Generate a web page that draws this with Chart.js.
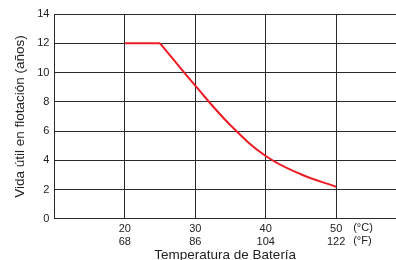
<!DOCTYPE html>
<html>
<head>
<meta charset="utf-8">
<script src="https://cdn.jsdelivr.net/npm/chart.js@4"></script>
<style>
  html, body { margin: 0; padding: 0; background: #fff; }
  #wrap { width: 396px; height: 260px; }
</style>
</head>
<body>
<div id="wrap"><canvas id="myChart" width="396" height="260"></canvas></div>
<script>
"use strict";

// flat part then the decay curve
const flatTemp = [20, 25];
const flatLife = [12, 12];
const curveTemp = [25, 30, 35, 40, 45, 50];
const curveLife = [12, 9.1, 6.4, 4.3, 3.05, 2.2];
const celsiusTicks = [20, 30, 40, 50];
const fahrenheitTicks = ["68", "86", "104", "122"];
const unitLabels = ["(°C)", "(°F)"];

const font = "'Liberation Sans', Arial, sans-serif";
const gridColor = "#2a2a2a";
const red = "#ec1c24";

const unitPlugin = {
  id: "units",
  afterDraw(chart) {
    const c = chart.ctx;
    const x = chart.scales.x.getPixelForValue(celsiusTicks[celsiusTicks.length - 1]) + 17;
    c.save();
    c.font = "11px " + font;
    c.fillStyle = "#222";
    c.textAlign = "left";
    c.textBaseline = "middle";
    c.fillText(unitLabels[0], x, 228);
    c.fillText(unitLabels[1], x, 240.5);
    c.restore();
  }
};

const ctx = document.getElementById("myChart");

new Chart(ctx, {
  type: "line",
  data: {
    datasets: [
      {
        data: flatTemp.map((t, i) => ({ x: t, y: flatLife[i] })),
        borderColor: red,
        borderWidth: 2,
        pointRadius: 0,
        tension: 0,
      },
      {
        data: curveTemp.map((t, i) => ({ x: t, y: curveLife[i] })),
        borderColor: red,
        borderWidth: 2,
        pointRadius: 0,
        tension: 0.4,
      },
    ],
  },
  options: {
    responsive: false,
    animation: false,
    layout: { padding: { left: 6, right: 0, top: 14, bottom: -2.5 } },
    plugins: { legend: { display: false }, tooltip: { enabled: false } },
    scales: {
      x: {
        type: "linear",
        min: 10,
        max: 58.5,
        afterBuildTicks(axis) {
          axis.ticks = celsiusTicks.map(v => ({ value: v }));
        },
        grid: { color: gridColor, lineWidth: 1, drawTicks: false },
        border: { color: gridColor, width: 1 },
        ticks: {
          color: "#222",
          font: { family: font, size: 11, lineHeight: 1.14 },
          padding: 4,
          maxRotation: 0,
          autoSkip: false,
          callback(v) {
            const i = celsiusTicks.indexOf(v);
            return [String(v), fahrenheitTicks[i]];
          },
        },
        title: {
          display: true,
          text: "Temperatura de Batería",
          color: "#222",
          font: { family: font, size: 13.5, lineHeight: 1 },
          padding: { top: -3, bottom: 0 },
        },
      },
      y: {
        min: 0,
        max: 14,
        grid: { color: gridColor, lineWidth: 1, drawTicks: false },
        border: { color: gridColor, width: 1 },
        ticks: {
          stepSize: 2,
          color: "#222",
          font: { family: font, size: 11 },
          padding: 5,
        },
        title: {
          display: true,
          text: "Vida útil en flotación (años)",
          color: "#222",
          font: { family: font, size: 13.5 },
          padding: { top: 6, bottom: 4 },
        },
      },
    },
  },
  plugins: [unitPlugin],
});
</script>
</body>
</html>
